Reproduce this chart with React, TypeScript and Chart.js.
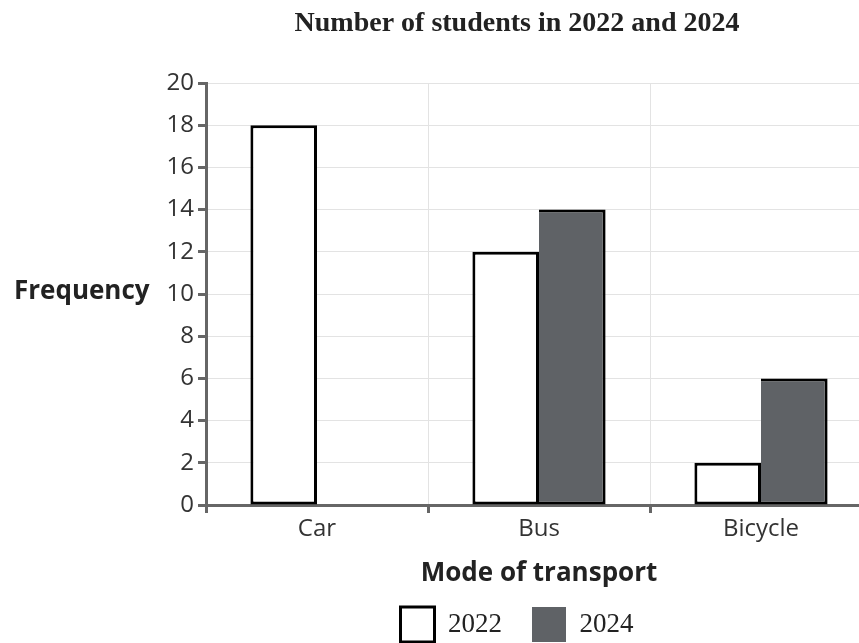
import React, { useEffect, useRef } from "react";
import { Chart, registerables } from "chart.js";

Chart.register(...registerables);

const TITLE = "Number of students in 2022 and 2024";
const X_TITLE = "Mode of transport";
const Y_TITLE = "Frequency";
const categories = ["Car", "Bus", "Bicycle"];
const seriesLabels = ["2022", "2024"];
const values2022: (number | null)[] = [18, 12, 2];
const values2024: (number | null)[] = [null, 14, 6];
const yMax = 20;
const yStep = 2;

const SANS = '"Open Sans", "Noto Sans", sans-serif';
const SERIF = '"Liberation Serif", "Times New Roman", serif';
const AXIS = "#666666";
const GRID = "#e3e3e3";
const FILL24 = "#5f6266";

const yTitlePlugin = {
  id: "yTitleHorizontal",
  afterDraw(chart: any) {
    const { ctx, chartArea } = chart;
    ctx.save();
    ctx.font = `bold 26px ${SANS}`;
    ctx.fillStyle = "#222222";
    ctx.textAlign = "left";
    ctx.textBaseline = "alphabetic";
    ctx.fillText(Y_TITLE, 6, (chartArea.top + chartArea.bottom) / 2 + 5);
    ctx.restore();
  },
};

export default function App() {
  const ref = useRef<HTMLCanvasElement | null>(null);

  useEffect(() => {
    if (!ref.current) return;
    const chart = new Chart(ref.current, {
      type: "bar",
      data: {
        labels: categories,
        datasets: [
          {
            label: seriesLabels[0],
            data: values2022,
            backgroundColor: "#ffffff",
            borderColor: "#000000",
            borderWidth: 3,
            borderSkipped: false,
            categoryPercentage: 0.6,
            barPercentage: 1,
          },
          {
            label: seriesLabels[1],
            data: values2024,
            backgroundColor: FILL24,
            borderColor: "#000000",
            borderWidth: { top: 3, right: 3, bottom: 3, left: 0 },
            borderSkipped: false,
            categoryPercentage: 0.6,
            barPercentage: 1,
          },
        ],
      },
      plugins: [yTitlePlugin],
      options: {
        responsive: false,
        animation: false,
        devicePixelRatio: 1,
        layout: { padding: 0 },
        plugins: {
          tooltip: { enabled: false },
          title: {
            display: true,
            text: TITLE,
            color: "#222222",
            font: { family: SERIF, size: 28, weight: "bold" },
            padding: { top: -1, bottom: 42.4 },
          },
          legend: {
            display: true,
            position: "bottom",
            fullSize: true,
            labels: {
              boxWidth: 34,
              boxHeight: 35,
              padding: 30,
              color: "#222222",
              font: { family: SERIF, size: 27 },
              generateLabels: (c: any) => {
                const items = Chart.defaults.plugins.legend.labels.generateLabels(c);
                return items.map((it: any, i: number) => ({
                  ...it,
                  fillStyle: i === 0 ? "#ffffff" : FILL24,
                  strokeStyle: "#000000",
                  lineWidth: i === 0 ? 3 : 0,
                }));
              },
            },
          },
        },
        scales: {
          x: {
            type: "category",
            offset: true,
            afterFit: (s: any) => {
              s.height = 72;
            },
            grid: {
              display: true,
              offset: true,
              color: GRID,
              lineWidth: 1,
              drawTicks: true,
              tickLength: 8,
              tickColor: AXIS,
              tickWidth: 3,
            },
            border: { display: true, color: AXIS, width: 3 },
            ticks: {
              color: "#333333",
              padding: 2,
              font: { family: SANS, size: 24 },
            },
            title: {
              display: true,
              text: X_TITLE,
              color: "#222222",
              font: { family: SANS, size: 26, weight: "bold" },
              padding: { top: 0, bottom: -12 },
            },
          },
          y: {
            type: "linear",
            min: 0,
            max: yMax,
            afterFit: (s: any) => {
              s.width = 198;
            },
            grid: {
              display: true,
              color: GRID,
              lineWidth: 1,
              drawTicks: true,
              tickLength: 8,
              tickColor: AXIS,
              tickWidth: 3,
            },
            border: { display: true, color: AXIS, width: 3 },
            ticks: {
              stepSize: yStep,
              color: "#333333",
              padding: 4,
              font: { family: SANS, size: 24 },
            },
          },
          yR: {
            type: "linear",
            position: "right",
            display: true,
            afterFit: (s: any) => {
              s.width = 154;
            },
            grid: { display: false, drawTicks: false },
            border: { display: false },
            ticks: { display: false },
          },
        },
      },
    } as any);
    return () => chart.destroy();
  }, []);

  return (
    <div
      style={{
        position: "fixed",
        left: 0,
        top: 0,
        width: "859px",
        height: "643px",
        overflow: "hidden",
        background: "#ffffff",
      }}
    >
      <canvas
        ref={ref}
        width={1018}
        height={644}
        style={{ position: "absolute", left: "8px", top: "8px" }}
      />
    </div>
  );
}
